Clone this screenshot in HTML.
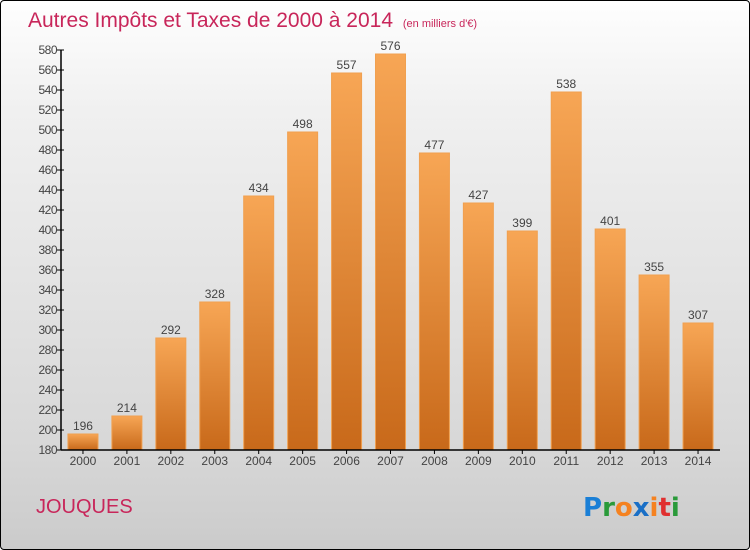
<!DOCTYPE html>
<html><head><meta charset="utf-8"><style>
html,body{margin:0;padding:0;}
body{width:750px;height:550px;overflow:hidden;font-family:"Liberation Sans",sans-serif;}
#wrap{position:absolute;left:0;top:0;width:748px;height:548px;border:1px solid #000;border-radius:4px;background:linear-gradient(#fefefe,#f0f0f0 20%,#d8d8d8 80%,#cbcbcb);}
</style></head><body>
<div id="wrap">
<svg id="chart" width="750" height="550" style="position:absolute;left:-1px;top:-1px">
<defs><linearGradient id="bg" x1="0" y1="0" x2="0" y2="1"><stop offset="0" stop-color="#f7a655"/><stop offset="1" stop-color="#c8691a"/></linearGradient></defs>
<text x="28" y="27" font-size="21" fill="#c8265a">Autres Impôts et Taxes de 2000 à 2014 <tspan font-size="11" dx="4">(en milliers d'€)</tspan></text>
<text x="36" y="513" font-size="20" fill="#c8265a">JOUQUES</text>
<g font-size="26" font-weight="bold" font-family="'DejaVu Sans',sans-serif">
<text x="583" y="516"><tspan fill="#1a7fd6">P</tspan><tspan fill="#2a9a3a">r</tspan><tspan fill="#f58220">o</tspan><tspan fill="#1a6fc6">x</tspan><tspan fill="#f58220">i</tspan><tspan fill="#e03030">t</tspan><tspan fill="#2a9a3a">i</tspan></text>
</g>
</svg>
</div>
<script>
const years=["2000","2001","2002","2003","2004","2005","2006","2007","2008","2009","2010","2011","2012","2013","2014"];
const values=[196,214,292,328,434,498,557,576,477,427,399,538,401,355,307];
const yTicks=[180,200,220,240,260,280,300,320,340,360,380,400,420,440,460,480,500,520,540,560,580];
const svg=document.getElementById('chart');
const NS='http://www.w3.org/2000/svg';
const x0=61,x1=720,yB=450,yMin=180,yMax=580,yT=50;
const band=(x1-x0)/years.length;
const y=v=>yB-(v-yMin)/(yMax-yMin)*(yB-yT);
const xc=i=>x0+band*(i+0.5);
function mk(t,a){const e=document.createElementNS(NS,t);for(const k in a)e.setAttribute(k,a[k]);svg.appendChild(e);return e;}
values.forEach((v,i)=>{
 const r=mk('rect',{x:xc(i)-15,y:y(v),width:30,height:yB-y(v),fill:'url(#bg)',stroke:'#f0a050','stroke-width':1});
 
 
 const t=mk('text',{x:xc(i),y:y(v)-4,'text-anchor':'middle','font-size':12,fill:'#444'});
 t.textContent=v;
 
 
 const xl=mk('text',{x:xc(i),y:yB+15,'text-anchor':'middle','font-size':12,fill:'#444'});
 xl.textContent=years[i];
 
 
 const tk=mk('line',{x1:xc(i),x2:xc(i),y1:yB,y2:yB+4,stroke:'#000'});
 
 
});
yTicks.forEach(v=>{
 const l=mk('line',{x1:x0-4,x2:x0+3,y1:y(v),y2:y(v),stroke:'#000'});
 
 
 const t=mk('text',{x:x0-4,y:y(v)+4,'text-anchor':'end','font-size':12,fill:'#444','letter-spacing':'-0.5'});
 t.textContent=v;
 
 
});
const ya=mk('line',{x1:x0,x2:x0,y1:yT,y2:yB,stroke:'#000','stroke-width':1.5});


const xa=mk('line',{x1:x0,x2:x1,y1:yB,y2:yB,stroke:'#000','stroke-width':1.5});


</script>
</body></html>
